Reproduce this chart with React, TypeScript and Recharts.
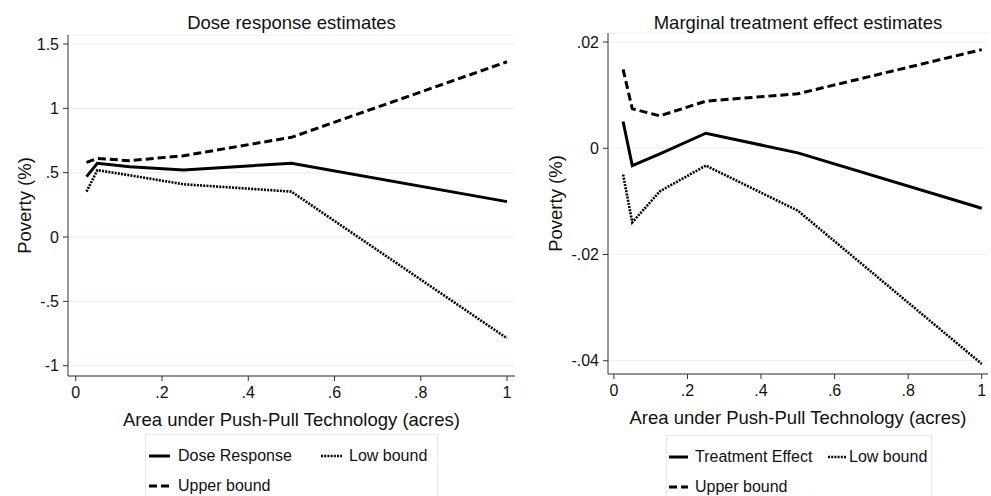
import { LineChart, Line, XAxis, YAxis, CartesianGrid, Legend, Label } from 'recharts';

// acres under push-pull
const areas = [0.025, 0.05, 0.125, 0.25, 0.5, 1];

// left panel: dose response
const doseResponse = [0.469, 0.573, 0.547, 0.521, 0.573, 0.275];
const doseLow = [0.353, 0.52, 0.48, 0.41, 0.353, -0.787];
const doseUpper = [0.58, 0.611, 0.593, 0.632, 0.775, 1.362];

// right panel: marginal treatment effect
const treatEffect = [0.00504, -0.00326, -0.00106, 0.00283, -0.00087, -0.0113];
const treatLow = [-0.00496, -0.01396, -0.0081, -0.00326, -0.01175, -0.0406];
const treatUpper = [0.01485, 0.00743, 0.0061, 0.00887, 0.01026, 0.01857];

const xTicks = [0, 0.2, 0.4, 0.6, 0.8, 1];
const xTickLabels = ['0', '.2', '.4', '.6', '.8', '1'];
const doseTicks = [-1, -0.5, 0, 0.5, 1, 1.5];
const doseTickLabels = ['-1', '-.5', '0', '.5', '1', '1.5'];
const treatTicks = [-0.04, -0.02, 0, 0.02];
const treatTickLabels = ['-.04', '-.02', '0', '.02'];

const FONT = '"Liberation Sans", Arial, Helvetica, sans-serif';
const AXIS = '#333';
const GRID = '#eaf2f3';

const STYLES = {
  solid: { strokeWidth: 3, dash: undefined },
  dashed: { strokeWidth: 3, dash: '8 4' },
  dotted: { strokeWidth: 2.6, dash: '2 1.2' },
};

type Kind = keyof typeof STYLES;

interface LegendItem {
  name: string;
  kind: Kind;
}

interface LegendLayout {
  left: number;
  top: number;
  width: number;
  symbolX: number[];
  textX: number[];
  symbolLen: number;
}

function StataLegend({ items, layout }: { items: LegendItem[]; layout: LegendLayout }) {
  return (
    <div
      style={{
        position: 'relative',
        width: layout.width,
        height: 80,
        border: '1px solid #e3eaec',
        boxSizing: 'border-box',
        fontFamily: FONT,
        fontSize: 16,
        color: '#111',
      }}
    >
      {items.map((item, i) => {
        const col = i % 2;
        const row = Math.floor(i / 2);
        const cy = 21 + row * 30;
        const st = STYLES[item.kind];
        return (
          <div key={item.name}>
            <svg
              width={layout.symbolLen}
              height={6}
              style={{ position: 'absolute', left: layout.symbolX[col], top: cy - 3 }}
            >
              <line
                x1={0}
                y1={3}
                x2={layout.symbolLen}
                y2={3}
                stroke="#000"
                strokeWidth={st.strokeWidth}
                strokeDasharray={st.dash}
              />
            </svg>
            <div
              style={{
                position: 'absolute',
                left: layout.textX[col],
                top: cy - 10,
                height: 20,
                lineHeight: '20px',
                whiteSpace: 'nowrap',
              }}
            >
              {item.name}
            </div>
          </div>
        );
      })}
    </div>
  );
}

interface PanelProps {
  title: string;
  left: number;
  width: number;
  axisWidth: number;
  margin: { top: number; right: number; bottom: number; left: number };
  xDomain: [number, number];
  yDomain: [number, number];
  yTicks: number[];
  yTickLabels: string[];
  yLabelOffset: number;
  est: number[];
  low: number[];
  up: number[];
  estName: string;
  legend: LegendLayout;
}

function Panel(p: PanelProps) {
  const data = areas.map((x, i) => ({ x, est: p.est[i], low: p.low[i], up: p.up[i] }));
  const plotLeft = p.margin.left + p.axisWidth;
  const plotRight = p.width - p.margin.right;
  const items: LegendItem[] = [
    { name: p.estName, kind: 'solid' },
    { name: 'Low bound', kind: 'dotted' },
    { name: 'Upper bound', kind: 'dashed' },
  ];

  return (
    <div style={{ position: 'absolute', left: p.left, top: 0 }}>
      <LineChart width={p.width} height={496} data={data} margin={p.margin} style={{ fontFamily: FONT }}>
        <text
          x={(plotLeft + plotRight) / 2}
          y={29}
          textAnchor="middle"
          fontSize={18.5}
          fill="#111"
          fontFamily={FONT}
        >
          {p.title}
        </text>
        <CartesianGrid vertical={false} stroke={GRID} strokeWidth={1.2} />
        <XAxis
          type="number"
          dataKey="x"
          domain={p.xDomain}
          allowDataOverflow
          ticks={xTicks}
          tickFormatter={(v: number) => xTickLabels[xTicks.indexOf(v)]}
          height={60}
          tickSize={5}
          tickMargin={6}
          stroke={AXIS}
          tick={{ fill: '#111', fontSize: 16 }}
        >
          <Label
            value="Area under Push-Pull Technology (acres)"
            position="insideBottom"
            offset={10}
            style={{ fontSize: 18.5, fill: '#111' }}
          />
        </XAxis>
        <YAxis
          type="number"
          domain={p.yDomain}
          allowDataOverflow
          ticks={p.yTicks}
          tickFormatter={(v: number) => p.yTickLabels[p.yTicks.indexOf(v)]}
          width={p.axisWidth}
          tickSize={5}
          tickMargin={4}
          stroke={AXIS}
          tick={{ fill: '#111', fontSize: 16 }}
        >
          <Label
            value="Poverty (%)"
            angle={-90}
            position="insideLeft"
            offset={p.yLabelOffset}
            style={{ fontSize: 18.5, fill: '#111', textAnchor: 'middle' }}
          />
        </YAxis>
        <Line
          dataKey="up"
          name="Upper bound"
          type="linear"
          stroke="#000"
          strokeWidth={STYLES.dashed.strokeWidth}
          strokeDasharray={STYLES.dashed.dash}
          dot={false}
          isAnimationActive={false}
        />
        <Line
          dataKey="low"
          name="Low bound"
          type="linear"
          stroke="#000"
          strokeWidth={STYLES.dotted.strokeWidth}
          strokeDasharray={STYLES.dotted.dash}
          dot={false}
          isAnimationActive={false}
        />
        <Line
          dataKey="est"
          name={p.estName}
          type="linear"
          stroke="#000"
          strokeWidth={STYLES.solid.strokeWidth}
          dot={false}
          isAnimationActive={false}
        />
        <Legend
          layout="horizontal"
          verticalAlign="middle"
          align="center"
          wrapperStyle={{ left: p.legend.left, top: p.legend.top, width: p.legend.width, height: 80 }}
          content={() => <StataLegend items={items} layout={p.legend} />}
        />
      </LineChart>
    </div>
  );
}

export default function App() {
  return (
    <div
      style={{
        position: 'absolute',
        left: 0,
        top: 0,
        width: 991,
        height: 496,
        background: '#fff',
        overflow: 'hidden',
      }}
    >
      <Panel
        title="Dose response estimates"
        left={0}
        width={530}
        axisWidth={68}
        margin={{ top: 35, right: 15, bottom: 60, left: 0 }}
        xDomain={[-0.018, 1.0185]}
        yDomain={[-1.08, 1.57]}
        yTicks={doseTicks}
        yTickLabels={doseTickLabels}
        yLabelOffset={24}
        est={doseResponse}
        low={doseLow}
        up={doseUpper}
        estName="Dose Response"
        legend={{ left: 145, top: 434, width: 293, symbolX: [3, 175], textX: [32, 203], symbolLen: 21 }}
      />
      <Panel
        title="Marginal treatment effect estimates"
        left={530}
        width={461}
        axisWidth={78}
        margin={{ top: 33, right: 3, bottom: 62, left: 0 }}
        xDomain={[-0.016, 1.017]}
        yDomain={[-0.0425, 0.0217]}
        yTicks={treatTicks}
        yTickLabels={treatTickLabels}
        yLabelOffset={25}
        est={treatEffect}
        low={treatLow}
        up={treatUpper}
        estName="Treatment Effect"
        legend={{ left: 136, top: 435, width: 266, symbolX: [2, 161], textX: [28, 182], symbolLen: 19 }}
      />
    </div>
  );
}
